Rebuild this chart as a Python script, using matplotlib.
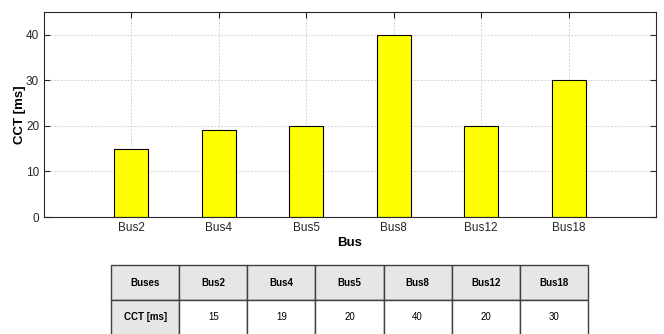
import matplotlib
matplotlib.use("Agg")
import matplotlib.pyplot as plt

buses = ["Bus2", "Bus4", "Bus5", "Bus8", "Bus12", "Bus18"]
cct_ms = [15, 19, 20, 40, 20, 30]
yticks = [0, 10, 20, 30, 40]

plt.rcParams['font.family'] = ['Liberation Sans', 'DejaVu Sans']

fig = plt.figure(figsize=(6.64, 3.34), dpi=100)
ax = fig.add_axes([44/664, 1-217/334, (656-44)/664, (217-12)/334])

x = list(range(1, len(buses)+1))
ax.bar(x, cct_ms, width=0.39, color='#ffff00', edgecolor='black', linewidth=0.8, zorder=3)
ax.set_xlim(0, 7)
ax.set_ylim(0, 45)
ax.set_xticks(x)
ax.set_xticklabels(buses)
ax.set_yticks(yticks)
ax.grid(True, linestyle=(0, (2, 2)), color='#c8c8c8', linewidth=0.6, zorder=0)
ax.tick_params(direction='in', length=4, labelsize=8.5, colors='#262626', top=True, right=True, labeltop=False, labelright=False)
for s in ax.spines.values():
    s.set_color('#262626')
    s.set_linewidth(0.8)
    s.set_zorder(4)
ax.set_xlabel("Bus", fontsize=9.5, fontweight='bold', labelpad=2)
ax.set_ylabel("CCT [ms]", fontsize=9.5, fontweight='bold', labelpad=0)

# table
tax = fig.add_axes([111/664, (334-335)/334, (588-111)/664, 70/334])
tax.axis('off')
cells = [["Buses"] + buses, ["CCT [ms]"] + [str(v) for v in cct_ms]]
tbl = tax.table(cellText=cells, loc='center', bbox=[0, 0, 1, 1], cellLoc='center')
tbl.auto_set_font_size(False)
for (r, c), cell in tbl.get_celld().items():
    cell.set_edgecolor('#404040')
    cell.set_linewidth(1.0)
    txt = cell.get_text()
    txt.set_fontsize(7)
    if r == 0 or c == 0:
        cell.set_facecolor('#e6e6e6')
        txt.set_fontweight('bold')
    else:
        cell.set_facecolor('white')

fig.savefig("out.png", dpi=100)
